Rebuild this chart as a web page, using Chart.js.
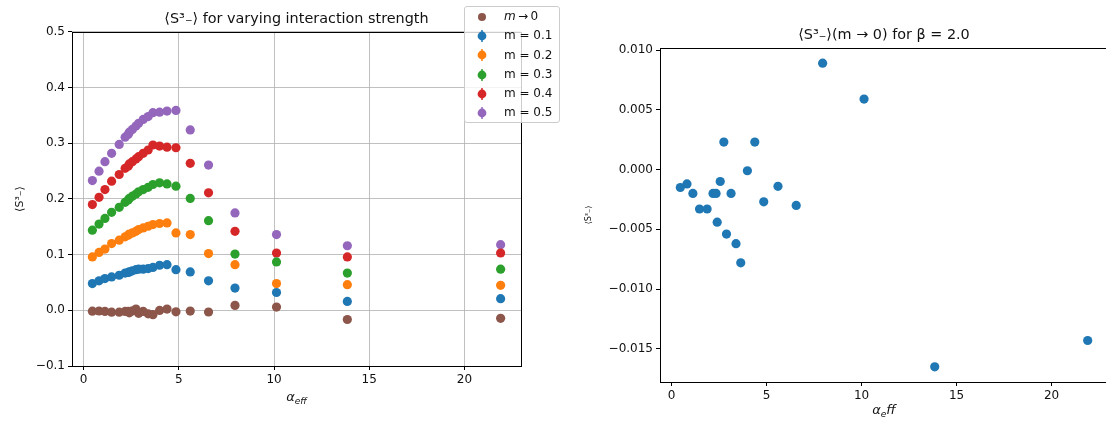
<!DOCTYPE html>
<html>
<head>
<meta charset="utf-8">
<script src="https://cdn.jsdelivr.net/npm/chart.js@4.4.0/dist/chart.umd.min.js"></script>
<style>
    html, body { margin: 0; padding: 0; background: #fff; }
    body { width: 1106px; height: 423px; position: relative; overflow: hidden; font-family: "DejaVu Sans", sans-serif; }
    #left { position: absolute; left: 0; top: 0; }
    #rightWrap { position: absolute; left: 560px; top: 0; width: 546px; height: 423px; overflow: hidden; }
    #right { position: absolute; left: 0; top: 0; }
    #legend {
        position: absolute; left: 464px; top: 6px; width: 96px; height: 117px;
        box-sizing: border-box; border: 1px solid #cccccc; border-radius: 3px;
        background: rgba(255, 255, 255, 0.8); font-size: 12px; color: #111;
    }
    #legend .row { height: 19.3px; line-height: 19.3px; display: flex; align-items: center; }
    #legend canvas { margin-left: 10px; margin-right: 15px; }
</style>
</head>
<body>
<canvas id="left" width="560" height="423"></canvas>
<div id="rightWrap"><canvas id="right" width="560" height="423"></canvas></div>
<div id="legend"></div>
<script>
// alpha_eff values (shared by every series)
const alphaEff = [0.46, 0.81, 1.12, 1.47, 1.87, 2.18, 2.34, 2.40, 2.56, 2.75, 2.89, 3.13,
    3.39, 3.64, 3.99, 4.38, 4.85, 5.60, 6.56, 7.95, 10.13, 13.85, 21.90];

// <S^3_-> for m -> 0
const mZero = [-0.0015, -0.0012, -0.0020, -0.0033, -0.0033, -0.0020, -0.0020, -0.0044, -0.0010,
    0.0023, -0.0054, -0.0020, -0.0062, -0.0078, -0.0001, 0.0023, -0.0027, -0.0014, -0.0030,
    0.0089, 0.0059, -0.0165, -0.0143];

const m01 = [0.048, 0.053, 0.057, 0.060, 0.063, 0.067, 0.068, 0.069, 0.071, 0.073, 0.074, 0.074,
    0.075, 0.077, 0.081, 0.082, 0.073, 0.069, 0.053, 0.040, 0.032, 0.016, 0.021];
const m02 = [0.096, 0.104, 0.110, 0.120, 0.126, 0.132, 0.135, 0.137, 0.139, 0.142, 0.145, 0.148,
    0.151, 0.154, 0.156, 0.157, 0.139, 0.136, 0.102, 0.082, 0.048, 0.046, 0.045];
const m03 = [0.144, 0.155, 0.165, 0.176, 0.185, 0.194, 0.198, 0.201, 0.205, 0.209, 0.213, 0.217,
    0.221, 0.226, 0.229, 0.227, 0.223, 0.201, 0.161, 0.101, 0.087, 0.067, 0.074];
const m04 = [0.190, 0.203, 0.217, 0.232, 0.244, 0.255, 0.259, 0.263, 0.267, 0.272, 0.276, 0.282,
    0.288, 0.297, 0.295, 0.293, 0.292, 0.264, 0.211, 0.142, 0.103, 0.096, 0.103];
const m05 = [0.233, 0.250, 0.267, 0.282, 0.298, 0.311, 0.316, 0.320, 0.325, 0.331, 0.336, 0.343,
    0.348, 0.355, 0.356, 0.358, 0.359, 0.324, 0.261, 0.175, 0.136, 0.116, 0.118];

const seriesLabels = ['m = 0.1', 'm = 0.2', 'm = 0.3', 'm = 0.4', 'm = 0.5'];
const seriesColors = ['#1f77b4', '#ff7f0e', '#2ca02c', '#d62728', '#9467bd'];
const zeroColor = '#8c564b';

const xTicks = [0, 5, 10, 15, 20];
const leftYTicks = [-0.1, 0.0, 0.1, 0.2, 0.3, 0.4, 0.5];
const rightYTicks = [-0.015, -0.010, -0.005, 0.000, 0.005, 0.010];

const points = ys => ys.map((y, i) => ({ x: alphaEff[i], y }));
const minus = s => s.replace('-', '\u2212');
const font = { family: 'DejaVu Sans', size: 12 };

// draws all four spines
const frame = {
    id: 'frame',
    beforeDatasetsDraw(chart) {
        const { ctx, chartArea: a } = chart;
        ctx.save();
        ctx.strokeStyle = '#000';
        ctx.lineWidth = 1;
        ctx.strokeRect(Math.round(a.left) + 0.5, Math.round(a.top) + 0.5,
            Math.round(a.right - a.left), Math.round(a.bottom - a.top));
        ctx.restore();
    }
};

// x label with subscripts, like matplotlib mathtext
const xLabel = {
    id: 'xLabel',
    afterDraw(chart, args, opts) {
        const { ctx, chartArea: a } = chart;
        const big = 'italic 13px "DejaVu Sans"';
        const small = '9px "DejaVu Sans"';
        const smallIt = 'italic 9px "DejaVu Sans"';
        ctx.save();
        let w = 0;
        opts.parts.forEach(p => {
            ctx.font = p.sub ? (p.it ? smallIt : small) : big;
            w += ctx.measureText(p.t).width;
        });
        let x = (a.left + a.right) / 2 - w / 2;
        const base = a.bottom + opts.offset;
        ctx.fillStyle = '#111';
        ctx.textBaseline = 'alphabetic';
        opts.parts.forEach(p => {
            ctx.font = p.sub ? (p.it ? smallIt : small) : big;
            ctx.fillText(p.t, x, p.sub ? base + 3 : base);
            x += ctx.measureText(p.t).width;
        });
        ctx.restore();
    }
};

const leftDatasets = [{
    label: 'm\u21920',
    data: points(mZero),
    backgroundColor: zeroColor,
    pointRadius: 4.6,
    pointBorderWidth: 0
}];
[m01, m02, m03, m04, m05].forEach((ys, i) => {
    leftDatasets.push({
        label: seriesLabels[i],
        data: points(ys),
        backgroundColor: seriesColors[i],
        pointRadius: 4.6,
        pointBorderWidth: 0
    });
});

new Chart(document.getElementById('left'), {
    type: 'scatter',
    data: { datasets: leftDatasets },
    plugins: [frame, xLabel],
    options: {
        responsive: false,
        animation: false,
        layout: { padding: { left: 0, right: 39, top: 0, bottom: 0 } },
        plugins: {
            legend: { display: false },
            tooltip: { enabled: false },
            title: {
                display: true,
                fullSize: false,
                text: '\u27e8S\u00b3\u208b\u27e9 for varying interaction strength',
                color: '#111',
                font: { family: 'DejaVu Sans', size: 14.4, weight: 'normal', lineHeight: 1.2 },
                padding: { top: 10.4, bottom: 4.3 }
            },
            xLabel: { parts: [{ t: '\u03b1' }, { t: 'eff', sub: true, it: true }], offset: 35 }
        },
        scales: {
            x: {
                type: 'linear', min: -0.61, max: 22.97,
                afterFit: s => { s.height = 57; },
                afterBuildTicks: s => { s.ticks = xTicks.map(v => ({ value: v })); },
                grid: { color: '#b0b0b0', lineWidth: 0.8, tickColor: '#000', tickLength: 4, tickWidth: 1 },
                border: { display: false },
                ticks: { font, color: '#111', padding: 3, maxRotation: 0, callback: v => String(v) }
            },
            y: {
                type: 'linear', min: -0.1, max: 0.5,
                afterFit: s => { s.width = 72; },
                afterBuildTicks: s => { s.ticks = leftYTicks.map(v => ({ value: v })); },
                grid: { color: '#b0b0b0', lineWidth: 0.8, tickColor: '#000', tickLength: 4, tickWidth: 1 },
                border: { display: false },
                ticks: { font, color: '#111', padding: 3, callback: v => minus(v.toFixed(1)) },
                title: {
                    display: true,
                    text: '\u27e8S\u00b3\u208b\u27e9',
                    color: '#111',
                    font: { family: 'DejaVu Sans', size: 11, lineHeight: 1.2 },
                    padding: { top: 13.4, bottom: 0 }
                }
            }
        }
    }
});

new Chart(document.getElementById('right'), {
    type: 'scatter',
    data: {
        datasets: [{
            label: 'm\u21920',
            data: points(mZero),
            backgroundColor: seriesColors[0],
            pointRadius: 4.6,
            pointBorderWidth: 0
        }]
    },
    plugins: [frame, xLabel],
    options: {
        responsive: false,
        animation: false,
        layout: { padding: { left: 0, right: 12, top: 0, bottom: 0 } },
        plugins: {
            legend: { display: false },
            tooltip: { enabled: false },
            title: {
                display: true,
                fullSize: false,
                text: '\u27e8S\u00b3\u208b\u27e9(m \u2192 0) for \u03b2 = 2.0',
                color: '#111',
                font: { family: 'DejaVu Sans', size: 14.4, weight: 'normal', lineHeight: 1.2 },
                padding: { top: 26.4, bottom: 4.3 }
            },
            xLabel: { parts: [{ t: '\u03b1' }, { t: 'e', sub: true, it: true }, { t: 'ff' }], offset: 32 }
        },
        scales: {
            x: {
                type: 'linear', min: -0.61, max: 22.97,
                afterFit: s => { s.height = 41; },
                afterBuildTicks: s => { s.ticks = xTicks.map(v => ({ value: v })); },
                grid: { drawOnChartArea: false, tickColor: '#000', tickLength: 4, tickWidth: 1 },
                border: { display: false },
                ticks: { font, color: '#111', padding: 3, maxRotation: 0, callback: v => String(v) }
            },
            y: {
                type: 'linear', min: -0.01777, max: 0.01017,
                afterFit: s => { s.width = 100; },
                afterBuildTicks: s => { s.ticks = rightYTicks.map(v => ({ value: v })); },
                grid: { drawOnChartArea: false, tickColor: '#000', tickLength: 4, tickWidth: 1 },
                border: { display: false },
                ticks: { font, color: '#111', padding: 3, callback: v => minus(v.toFixed(3)) },
                title: {
                    display: true,
                    text: '\u27e8S\u00b3\u208b\u27e9',
                    color: '#111',
                    font: { family: 'DejaVu Sans', size: 8, lineHeight: 1.2 },
                    padding: { top: 24, bottom: 0 }
                }
            }
        }
    }
});

// legend: scatter dot for m->0, errorbar glyph for the rest
const legend = document.getElementById('legend');
const legendEntries = [{ label: '<i>m</i>\u2009\u2192\u20090', color: zeroColor, bar: false }]
    .concat(seriesLabels.map((l, i) => ({ label: l, color: seriesColors[i], bar: true })));

legendEntries.forEach(e => {
    const row = document.createElement('div');
    row.className = 'row';
    const c = document.createElement('canvas');
    c.width = 14;
    c.height = 16;
    const g = c.getContext('2d');
    g.fillStyle = e.color;
    g.beginPath();
    g.arc(7, 8, e.bar ? 4.4 : 4, 0, Math.PI * 2);
    g.fill();
    if (e.bar) {
        g.strokeStyle = e.color;
        g.lineWidth = 1.5;
        g.beginPath();
        g.moveTo(7, 2);
        g.lineTo(7, 14);
        g.stroke();
    }
    const span = document.createElement('span');
    span.innerHTML = e.label;
    row.appendChild(c);
    row.appendChild(span);
    legend.appendChild(row);
});
</script>
</body>
</html>
